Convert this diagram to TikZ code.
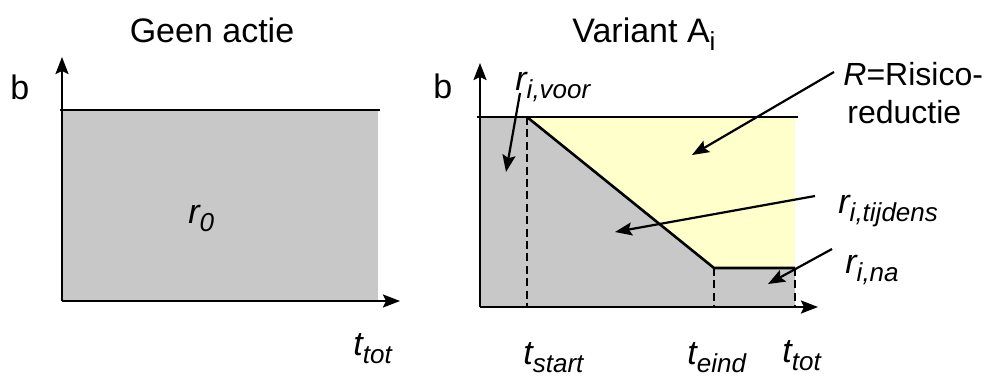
\documentclass[tikz,border=0pt]{standalone}
\usepackage{fontspec}
\setmainfont{Liberation Sans}
\usepackage{xcolor}
\usetikzlibrary{arrows.meta}
\definecolor{vlakgrijs}{HTML}{C8C8C8}
\definecolor{vlakgeel}{HTML}{FFFFCC}
\newcommand{\onder}[1]{\raisebox{-4pt}{\fontsize{13}{13}\selectfont #1}}

\begin{document}
\begin{tikzpicture}[
    x=0.5pt, y=-0.5pt,
    tekst/.style={
        font=\fontsize{17}{19}\selectfont,
        inner sep=0pt,
        anchor=base west
    },
    as/.style={
        line width=1.1pt,
        -{Stealth[length=8.5pt,width=6.5pt,inset=1.5pt]}
    },
    grens/.style={line width=1.3pt},
    stippel/.style={line width=1.4pt, dash pattern=on 4pt off 2.2pt},
    pijl/.style={
        line width=1.1pt,
        -{Stealth[length=8.5pt,width=6.5pt,inset=1.5pt]}
    }
]
\useasboundingbox (0,0) rectangle (996,376);

% ============================================================
% Geen actie
% ============================================================

\coordinate (oa) at (62,301);
\coordinate (oatop) at (62,57);
\coordinate (oaeind) at (400,301);

\fill[vlakgrijs] (62,110) rectangle (378,301);
\draw[grens] (60,110) -- (380,110);
\draw[as] (oa) -- (oatop);
\draw[as] (oa) -- (oaeind);

\node[tekst, anchor=base] (titela) at (212,42) {Geen actie};
\node[tekst] (ba) at (10,99) {b};
\node[tekst] (rnul) at (188,223) {\itshape r\onder{0}};
\node[tekst] (ttota) at (353,355) {\itshape t\onder{tot}};

% ============================================================
% Variant A_i
% ============================================================

\coordinate (ob) at (480,307);
\coordinate (obtop) at (480,63);
\coordinate (obeind) at (818,307);
\coordinate (start) at (527,117);
\coordinate (eind) at (714,268);
\coordinate (tot) at (795,268);

\fill[vlakgeel] (start) -- (795,117) -- (tot) -- (eind) -- cycle;
\fill[vlakgrijs] (480,117) -- (start) -- (eind) -- (tot)
    -- (795,307) -- (ob) -- cycle;
\draw[grens] (477,117) -- (798,117);
\draw[grens] (start) -- (eind) -- (tot);
\draw[stippel] (start) -- (527,307);
\draw[stippel] (eind) -- (714,307);
\draw[stippel] (tot) -- (795,307);
\draw[as] (ob) -- (obtop);
\draw[as] (ob) -- (obeind);

\node[tekst] (titelb) at (572,42) {Variant A\onder{i}};
\node[tekst] (bb) at (433,98) {b};
\node[tekst] (voor) at (515,90) {\itshape r\onder{i,voor}};
\node[tekst, font=\fontsize{16}{18}\selectfont] (risico) at (843,85)
    {\textit{R}=Risico-};
\node[tekst, font=\fontsize{16}{18}\selectfont] (reductie) at (847,123)
    {reductie};
\node[tekst] (tijdens) at (838,213) {\itshape r\onder{i,tijdens}};
\node[tekst] (na) at (845,273) {\itshape r\onder{i,na}};
\node[tekst] (tstart) at (523,364) {\itshape t\onder{start}};
\node[tekst] (teind) at (687,364) {\itshape t\onder{eind}};
\node[tekst] (ttotb) at (782,362) {\itshape t\onder{tot}};

% ============================================================
% Pijlen naar de vlakken
% ============================================================

\coordinate (voorstaart) at (520,93);
\coordinate (voorpunt) at (506,172);
\coordinate (risicostaart) at (834,72);
\coordinate (risicopunt) at (692,155);
\coordinate (tijdensstaart) at (815,196);
\coordinate (tijdenspunt) at (615,232);
\coordinate (nastaart) at (832,249);
\coordinate (napunt) at (768,284);

\draw[pijl] (voorstaart) -- (voorpunt);
\draw[pijl] (risicostaart) -- (risicopunt);
\draw[pijl] (tijdensstaart) -- (tijdenspunt);
\draw[pijl] (nastaart) -- (napunt);

\end{tikzpicture}
\end{document}
